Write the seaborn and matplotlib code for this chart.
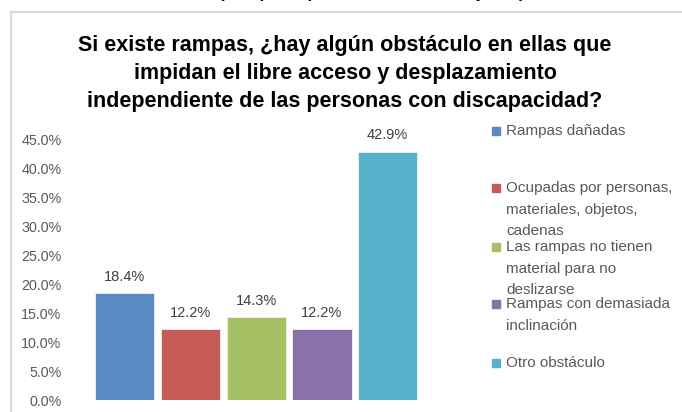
import matplotlib
matplotlib.use('Agg')
import matplotlib.pyplot as plt
from matplotlib.patches import Rectangle
import seaborn as sns
import pandas as pd

# Data
categories = ['Rampas dañadas',
              'Ocupadas por personas,\nmateriales, objetos,\ncadenas',
              'Las rampas no tienen\nmaterial para no\ndeslizarse',
              'Rampas con demasiada\ninclinación',
              'Otro obstáculo']
values = [18.4, 12.2, 14.3, 12.2, 42.9]
colors = ['#5a8ac4', '#c75b58', '#a6c165', '#8b70aa', '#57b3cc']
yticks = [0, 5, 10, 15, 20, 25, 30, 35, 40, 45]
title_lines = ['Si existe rampas, ¿hay algún obstáculo en ellas que',
               'impidan el libre acceso y desplazamiento',
               'independiente de las personas con discapacidad?']
top_text = 'Obstáculos en las rampas que impidan el libre acceso y desplazamiento'

sns.set_theme(style='white')
plt.rcParams['font.family'] = ['Liberation Sans', 'DejaVu Sans']

df = pd.DataFrame({'cat': categories, 'val': values})

fig = plt.figure(figsize=(6.82, 4.12), dpi=100)
ax = fig.add_axes([92 / 682, 12 / 412, 328.5 / 682, 260.5 / 412])

sns.barplot(data=df, x='cat', y='val', hue='cat', palette=colors, saturation=1,
            width=0.9, legend=False, ax=ax, edgecolor='#eef2f8', linewidth=0.6)

ax.set_ylim(0, 45)
ax.set_yticks(yticks)
ax.set_yticklabels([f'{t:.1f}%' for t in yticks], fontsize=10.3, color='#595959')
ax.tick_params(axis='y', length=0, pad=22)
ax.set_xticks([])
ax.set_xlabel('')
ax.set_ylabel('')
for s in ax.spines.values():
    s.set_visible(False)

for i, v in enumerate(values):
    ax.annotate(f'{v:.1f}%', (i, v), xytext=(0, 12), textcoords='offset points',
                ha='center', va='center', fontsize=10.5, color='#404040')

# title
for k, line in enumerate(title_lines):
    fig.text(345 / 682, 1 - (46 + 28 * k) / 412, line, ha='center', va='center',
             fontsize=15.5, fontweight='bold', color='black')

# cut-off text at the very top
fig.text(45 / 682, 1 + 2 / 412, top_text, ha='left', va='baseline',
         fontsize=12, fontweight='bold', fontstyle='italic', color='black')

# chart frame
fig.patches.append(Rectangle((11 / 682, -0.1), 1.1, 1 - 12 / 412 + 0.1,
                             transform=fig.transFigure, fill=False,
                             edgecolor='#d9d9d9', linewidth=1.5))

# legend
entry_tops = [131, 188, 247, 304, 363]
for lbl, c, y0 in zip(categories, colors, entry_tops):
    fig.patches.append(Rectangle((492 / 682, 1 - (y0 + 4) / 412), 8 / 682, 8 / 412,
                                 transform=fig.transFigure, color=c))
    for j, part in enumerate(lbl.split('\n')):
        fig.text(506 / 682, 1 - (y0 + 21.5 * j) / 412, part, ha='left', va='center',
                 fontsize=11, color='#595959')

fig.savefig('out.png', dpi=100)
